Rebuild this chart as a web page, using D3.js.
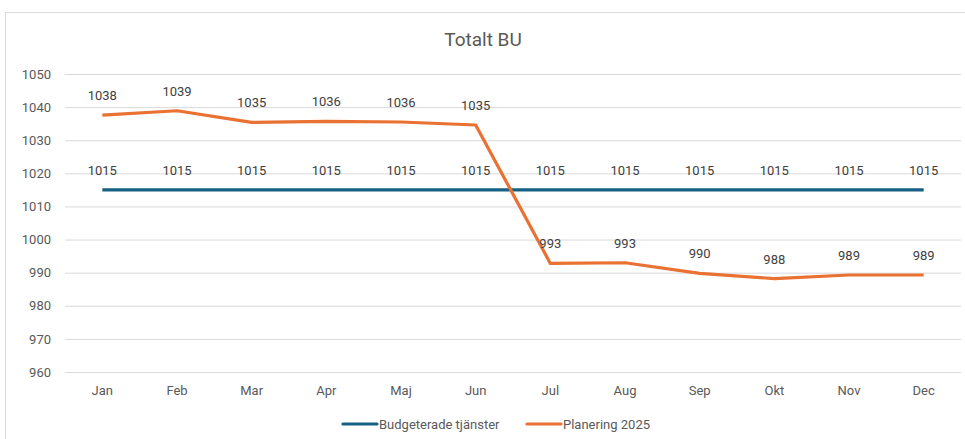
<!DOCTYPE html>
<html><head><meta charset="utf-8">
<script src="https://cdn.jsdelivr.net/npm/d3@7"></script>
<style>body{margin:0;background:#fff}svg{display:block;font-family:Roboto,"Open Sans",sans-serif}</style>
</head><body><svg id="c" width="965" height="439"></svg>
<script>
const months = ["Jan","Feb","Mar","Apr","Maj","Jun","Jul","Aug","Sep","Okt","Nov","Dec"];
const budget = [1015,1015,1015,1015,1015,1015,1015,1015,1015,1015,1015,1015];
const planering = [1037.6,1038.9,1035.4,1035.7,1035.5,1034.6,992.8,993.0,989.8,988.2,989.3,989.3];
const yTicks = [960,970,980,990,1000,1010,1020,1030,1040,1050];
const seriesNames = ["Budgeterade tjänster","Planering 2025"];
const colors = ["#156082","#E97132"];

const svg = d3.select("#c");
svg.append("rect").attr("x",5.5).attr("y",12.5).attr("width",965).attr("height",440)
  .attr("fill","#fff").attr("stroke","#d9d9d9");

const x = d3.scaleBand().domain(months).range([65,961]);
const y = d3.scaleLinear().domain([960,1050]).range([372,74]);

svg.append("text").attr("x",483).attr("y",46).attr("text-anchor","middle")
  .attr("font-size",19).attr("fill","#595959").text("Totalt BU");

const gy = svg.append("g").attr("transform","translate(65,0)")
  .call(d3.axisLeft(y).tickValues(yTicks).tickFormat(d3.format("d")).tickSize(-896).tickPadding(14));
gy.select(".domain").remove();
gy.selectAll("line").attr("stroke","#d9d9d9");
gy.selectAll("text").attr("font-size",13).attr("fill","#595959").attr("font-family","Roboto,sans-serif");

const gx = svg.append("g").attr("transform","translate(0,372)")
  .call(d3.axisBottom(x).tickSize(0).tickPadding(14));
gx.select(".domain").remove();
gx.selectAll("text").attr("font-size",13).attr("fill","#595959").attr("font-family","Roboto,sans-serif");

const line = d3.line().x((d,i)=>x(months[i])+x.bandwidth()/2).y(d=>y(d));
[budget,planering].forEach((s,k)=>{
  svg.append("path").datum(s).attr("d",line).attr("fill","none")
    .attr("stroke",colors[k]).attr("stroke-width",3.2).attr("stroke-linejoin","round");
});
[budget,planering].forEach((s,k)=>{
  svg.append("g").selectAll("text").data(s).join("text")
    .attr("x",(d,i)=>x(months[i])+x.bandwidth()/2)
    .attr("y",d=>y(d)-15)
    .attr("text-anchor","middle").attr("font-size",13).attr("fill","#404040")
    .text(d=>d3.format(".0f")(d));
});

const lg = svg.append("g");
const lx = [343,527];
seriesNames.forEach((n,k)=>{
  lg.append("line").attr("x1",lx[k]).attr("x2",lx[k]+34).attr("y1",424).attr("y2",424)
    .attr("stroke",colors[k]).attr("stroke-width",3.2).attr("stroke-linecap","round");
  lg.append("text").attr("x",lx[k]+36).attr("y",428.5).attr("font-size",13)
    .attr("fill","#595959").text(n);
});
</script></body></html>
